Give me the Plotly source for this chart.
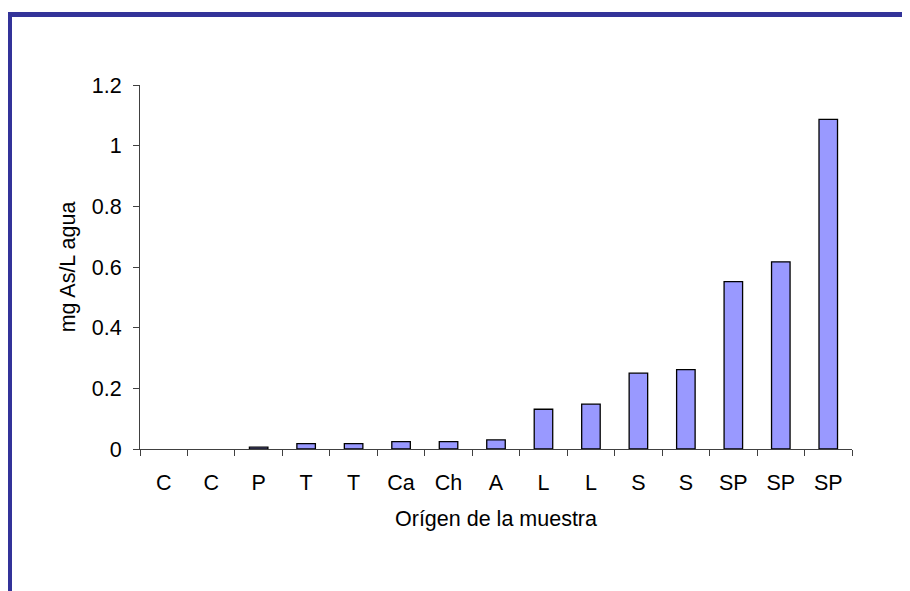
import plotly.graph_objects as go

categories = ["C", "C", "P", "T", "T", "Ca", "Ch", "A", "L", "L", "S", "S", "SP", "SP", "SP"]
values = [0.0, 0.0, 0.006, 0.018, 0.018, 0.024, 0.024, 0.03, 0.131, 0.148, 0.25, 0.262, 0.552, 0.617, 1.087]
y_ticks = [0, 0.2, 0.4, 0.6, 0.8, 1.0, 1.2]

W, H = 910, 591
L, T = 132, 77
pw, ph = 712, 364
R, B = W - L - pw, H - T - ph

def px_to_paper_x(px):
    return (px - L) / pw

def px_to_paper_y(py):
    return (T + ph - py) / ph

xpos = list(range(len(categories)))
boundaries = [i - 0.5 for i in range(len(categories) + 1)]

fig = go.Figure(go.Bar(
    x=xpos, y=values,
    marker=dict(color="#9999FF", line=dict(color="#000000", width=[0 if v == 0 else 1.3 for v in values])),
    hoverinfo="skip",
))

font = "Liberation Sans, Arial, sans-serif"
FS = 21.5
fig.update_layout(
    width=W, height=H,
    margin=dict(l=L, r=R, t=T, b=B),
    paper_bgcolor="white", plot_bgcolor="white",
    bargap=0.61,
    showlegend=False,
    font=dict(family=font, size=FS, color="#000000"),
    xaxis=dict(
        range=[-0.5, len(categories) - 0.5],
        tickmode="array", tickvals=xpos, ticktext=categories,
        ticks="", showgrid=False, zeroline=False,
        showline=True, linecolor="#404040", linewidth=1,
        tickfont=dict(size=FS),
        ticklabelstandoff=14,
        minor=dict(tickmode="array", tickvals=boundaries, ticks="outside", ticklen=6,
                   tickcolor="#404040", tickwidth=1, showgrid=False),
        title=dict(text="Orígen de la muestra", font=dict(size=FS), standoff=17),
    ),
    yaxis=dict(
        range=[0, 1.2], tickmode="array", tickvals=y_ticks,
        ticks="outside", ticklen=6, tickcolor="#404040", tickwidth=1,
        showgrid=False, zeroline=False,
        showline=True, linecolor="#404040", linewidth=1,
        tickfont=dict(size=FS),
        ticklabelstandoff=7,
        title=dict(text="mg As/L agua", font=dict(size=FS), standoff=10),
    ),
    shapes=[
        dict(type="line", xref="paper", yref="paper",
             x0=px_to_paper_x(1.5), x1=px_to_paper_x(915),
             y0=px_to_paper_y(6.5), y1=px_to_paper_y(6.5),
             line=dict(color="#333399", width=5)),
        dict(type="line", xref="paper", yref="paper",
             x0=px_to_paper_x(1.5), x1=px_to_paper_x(1.5),
             y0=px_to_paper_y(4), y1=px_to_paper_y(600),
             line=dict(color="#333399", width=5)),
    ],
)

fig.write_html("out.html")
